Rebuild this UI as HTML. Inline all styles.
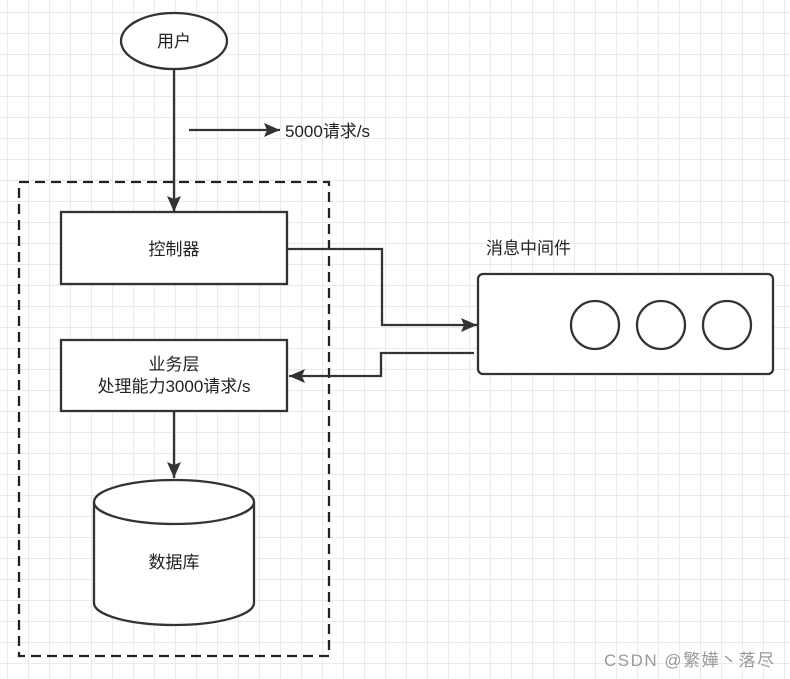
<!DOCTYPE html>
<html><head><meta charset="utf-8"><style>
html,body{margin:0;padding:0;background:#fff;}
svg{display:block;}
text{font-family:"Liberation Sans","Noto Sans CJK SC",sans-serif;fill:#222;}
</style></head><body>
<svg width="790" height="679" viewBox="0 0 790 679" xmlns="http://www.w3.org/2000/svg">
<defs>
<pattern id="g" x="7" y="12" width="21" height="21" patternUnits="userSpaceOnUse">
<path d="M0 0H21M0 0V21" stroke="#e4e4e4" stroke-width="1.5" fill="none"/>
</pattern>
<marker id="b" markerWidth="18" markerHeight="16" refX="16" refY="8" orient="auto" markerUnits="userSpaceOnUse">
<path d="M0 1L16 8L0 15L3 8Z" fill="#333"/>
</marker>
</defs>
<rect width="790" height="679" fill="url(#g)"/>
<g stroke="#333" stroke-width="2.3" fill="none">
<rect x="19" y="182" width="310" height="474" stroke-dasharray="10,6" stroke="#222"/>
<ellipse cx="174" cy="41" rx="53" ry="28" fill="#fff"/>
<line x1="174" y1="69" x2="174" y2="212" marker-end="url(#b)"/>
<line x1="189" y1="130" x2="280" y2="130" marker-end="url(#b)"/>
<rect x="61" y="212" width="226" height="72" fill="#fff"/>
<rect x="61" y="340" width="226" height="71" fill="#fff"/>
<polyline points="287,249 382,249 382,325 477,325" marker-end="url(#b)"/>
<polyline points="474,353 381,353 381,376 289,376" marker-end="url(#b)"/>
<line x1="174" y1="411" x2="174" y2="478" marker-end="url(#b)"/>
<path d="M94 502 V603 A80 22 0 0 0 254 603 V502" fill="#fff"/>
<ellipse cx="174" cy="502" rx="80" ry="22" fill="#fff"/>
<rect x="478" y="274" width="295" height="100" rx="5" fill="#fff"/>
<circle cx="595" cy="325" r="24"/>
<circle cx="661" cy="325" r="24"/>
<circle cx="727" cy="325" r="24"/>
</g>
<g font-size="17">
<text x="174" y="47" text-anchor="middle">用户</text>
<text x="285" y="137">5000请求/s</text>
<text x="174" y="255" text-anchor="middle">控制器</text>
<text x="174" y="370" text-anchor="middle">业务层</text>
<text x="174" y="392" text-anchor="middle">处理能力3000请求/s</text>
<text x="174" y="568" text-anchor="middle">数据库</text>
<text x="486" y="254">消息中间件</text>
<text x="604" y="666" textLength="170" style="fill:#999">CSDN @繁嬅丶落尽</text>
</g>
</svg>
</body></html>
